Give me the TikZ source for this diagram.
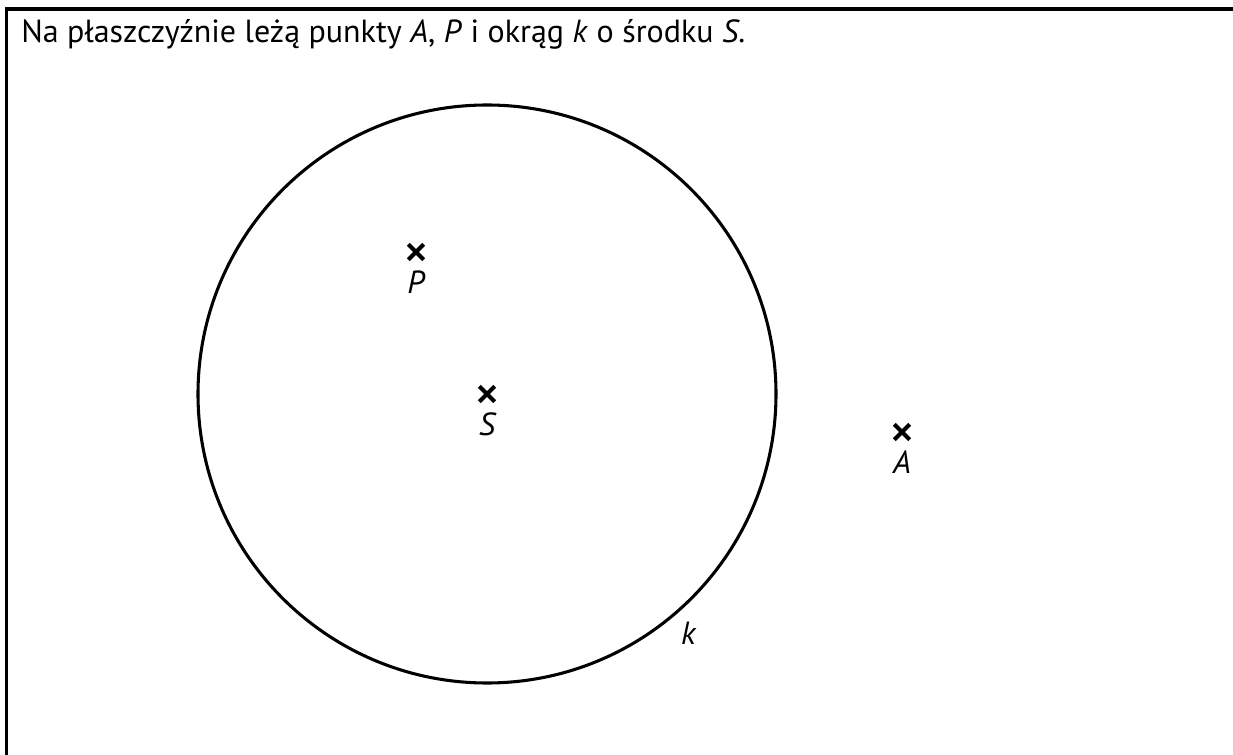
\documentclass[tikz,border=0pt]{standalone}
\usepackage{fontspec}
\setmainfont{PT Sans}
\usetikzlibrary{positioning,shapes.misc}

\begin{document}
\begin{tikzpicture}[
  x=0.75pt, y=-0.75pt,
  frame/.style={line width=2.3pt},
  pointmark/.style={cross out, draw, line width=3pt, minimum size=11.5pt, inner sep=0pt, outer sep=0pt},
  ptlabel/.style={inner sep=0pt, font=\fontsize{24}{27}\selectfont\itshape},
  ring/.style={circle, draw, line width=2.3pt, minimum size=433.5pt, inner sep=0pt, outer sep=0pt}
]
\useasboundingbox (0,0) rectangle (1233,755);
% ramka
\draw[frame] (1233,9) -- (6.5,9) -- (6.5,755);
\node[anchor=base west, inner sep=0pt, font=\fontsize{24}{27}\selectfont] (title) at (21,43)
  {Na płaszczyźnie leżą punkty \textit{A}, \textit{P} i okrąg \textit{k} o środku \textit{S}.};

% punkty
\node[pointmark] (S) at (487,394) {};
\node[pointmark] (P) at (416,252) {};
\node[pointmark] (A) at (902,432) {};
\node[ptlabel, below=8pt of S] (lS) {S};
\node[ptlabel, below=8pt of P] (lP) {P};
\node[ptlabel, below=8pt of A] (lA) {A};

% okrag
\node[ring] (k) at (S) {};
\node[ptlabel, anchor=north west, xshift=6pt, yshift=-5pt] (lk) at (k.-50) {k};
\end{tikzpicture}
\end{document}
